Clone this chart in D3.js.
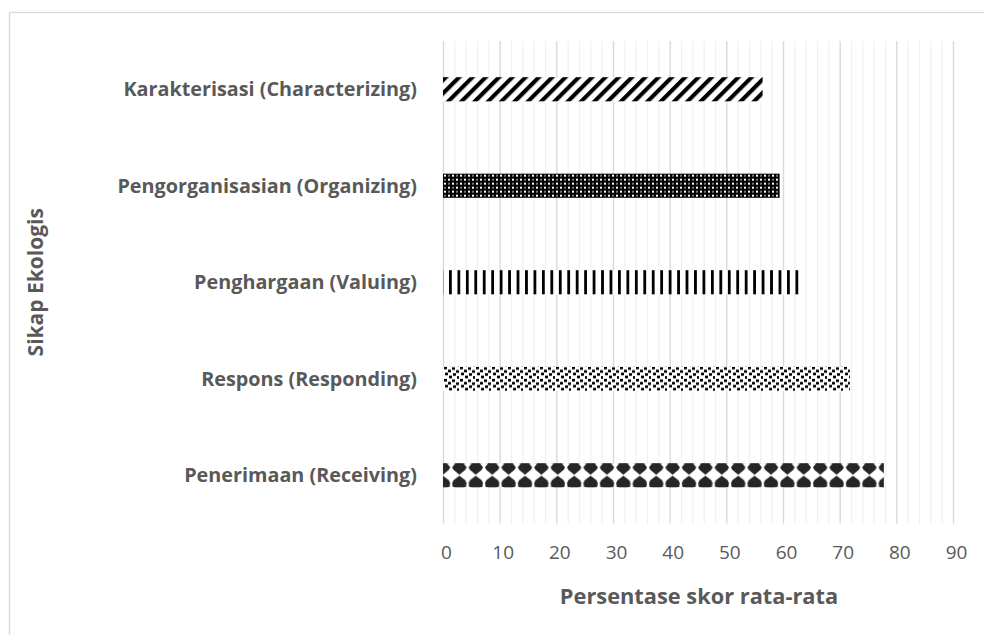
<!DOCTYPE html>
<html>
  <head>
    <meta charset="utf-8">
    <title>Sikap Ekologis</title>
    <script type="text/javascript" src="https://d3js.org/d3.v7.min.js"></script>
    <style>
      html, body {
        margin: 0;
        background: #fff;
      }
      text {
        font-family: "Open Sans", sans-serif;
        fill: #595959;
      }
    </style>
  </head>
  <body>
    <script>

    // data
    var categories = [
      "Karakterisasi (Characterizing)",
      "Pengorganisasian (Organizing)",
      "Penghargaan (Valuing)",
      "Respons (Responding)",
      "Penerimaan (Receiving)"
    ];
    var values = [56.4, 59.4, 63.0, 71.8, 77.8];
    var xTicks = [0, 10, 20, 30, 40, 50, 60, 70, 80, 90];
    var patternIds = ["p-diag", "p-sphere", "p-vert", "p-confetti", "p-shingle"];

    var W = 984, H = 635;
    var plotLeft = 443, plotRight = 953, plotTop = 41, plotBottom = 523.5;

    var svg = d3.select("body")
                .append("svg")
                .attr("width", W)
                .attr("height", H);

    // chart frame
    svg.append("rect")
       .attr("x", 9.5).attr("y", 12.5)
       .attr("width", W + 20).attr("height", H + 20)
       .attr("fill", "none")
       .attr("stroke", "#d9d9d9")
       .attr("stroke-width", 1.3);

    var x = d3.scaleLinear().domain([0, 90]).range([plotLeft, plotRight]);
    var y = d3.scaleBand()
              .domain(categories)
              .range([plotTop, plotBottom])
              .paddingInner(0.75)
              .paddingOuter(0.375);

    var gridH = plotBottom - plotTop;

    // minor gridlines
    var minor = d3.range(0, 91, 2).filter(function(d) { return d % 10 != 0; });
    var gMinor = svg.append("g")
       .attr("transform", "translate(0," + plotBottom + ")")
       .call(d3.axisBottom(x).tickValues(minor).tickSize(-gridH).tickFormat(""));
    gMinor.select(".domain").remove();
    gMinor.selectAll("line").attr("stroke", "#f0f0f0").attr("stroke-width", 1.2);

    // major gridlines + tick labels
    var xAxis = svg.append("g")
       .attr("transform", "translate(0," + plotBottom + ")")
       .call(d3.axisBottom(x).tickValues(xTicks).tickSize(-gridH).tickPadding(0));
    xAxis.select(".domain").remove();
    xAxis.selectAll("line").attr("stroke", "#d9d9d9").attr("stroke-width", 1.4);
    xAxis.selectAll("text")
         .attr("x", 3)
         .attr("y", 29)
         .attr("dy", "0.35em")
         .attr("fill", "#595959")
         .style("font-size", "19px")
         .style("font-family", "'Open Sans', sans-serif");

    // patterns
    var defs = svg.append("defs");
    var bw = y.bandwidth();

    function barTop(i) { return y(categories[i]); }

    // wide upward diagonal
    var pd = defs.append("pattern")
       .attr("id", "p-diag")
       .attr("patternUnits", "userSpaceOnUse")
       .attr("width", 9.4).attr("height", 9.4)
       .attr("patternTransform", "translate(" + plotLeft + "," + barTop(0) + ") rotate(45)");
    pd.append("rect").attr("width", 9.4).attr("height", 9.4).attr("fill", "#fff");
    pd.append("rect").attr("width", 4.1).attr("height", 9.4).attr("fill", "#000");

    // dark sphere / dotted grid
    var ps = defs.append("pattern")
       .attr("id", "p-sphere")
       .attr("patternUnits", "userSpaceOnUse")
       .attr("x", plotLeft).attr("y", barTop(1))
       .attr("width", 8).attr("height", 8);
    ps.append("rect").attr("width", 8).attr("height", 8).attr("fill", "#000");
    ps.append("rect").attr("x", 1).attr("y", 1).attr("width", 2).attr("height", 2).attr("fill", "#fff");
    ps.append("rect").attr("x", 5).attr("y", 5).attr("width", 2).attr("height", 2).attr("fill", "#fff");
    ps.append("rect").attr("x", 5).attr("y", 1).attr("width", 2).attr("height", 2).attr("fill", "#777");
    ps.append("rect").attr("x", 1).attr("y", 5).attr("width", 2).attr("height", 2).attr("fill", "#777");

    // vertical lines
    var pv = defs.append("pattern")
       .attr("id", "p-vert")
       .attr("patternUnits", "userSpaceOnUse")
       .attr("x", plotLeft + 6).attr("y", barTop(2))
       .attr("width", 8.45).attr("height", 10);
    pv.append("rect").attr("width", 8.45).attr("height", 10).attr("fill", "#fff");
    pv.append("rect").attr("width", 2.8).attr("height", 10).attr("fill", "#000");

    // small confetti
    var pc = defs.append("pattern")
       .attr("id", "p-confetti")
       .attr("patternUnits", "userSpaceOnUse")
       .attr("x", plotLeft).attr("y", barTop(3))
       .attr("width", 16).attr("height", 12.2);
    pc.append("rect").attr("width", 16).attr("height", 12.2).attr("fill", "#fff");
    [[1, 0], [9, 0.5], [5, 3], [13, 3.5], [2, 6], [10, 6.5], [6, 9], [14, 9.5]].forEach(function(p) {
      pc.append("rect").attr("x", p[0]).attr("y", p[1])
        .attr("width", 3).attr("height", 2.6).attr("fill", "#000");
    });

    // shingle / diamond shapes
    var c = 8.2;
    var ph = defs.append("pattern")
       .attr("id", "p-shingle")
       .attr("patternUnits", "userSpaceOnUse")
       .attr("x", plotLeft - 8.2).attr("y", barTop(4))
       .attr("width", 16.4).attr("height", bw);
    ph.append("rect").attr("width", 16.4).attr("height", bw).attr("fill", "#fff");
    ph.append("path")
      .attr("fill", "#262626")
      .attr("d",
        "M" + (c - 4) + ",0 L" + (c + 4) + ",0 L" + (c + 7.2) + ",4 L" + (c + 6) + ",6.5 L" + c + "," + (bw / 2 - 0.6) +
        " L" + (c - 6) + ",6.5 L" + (c - 7.2) + ",4 Z" +
        " M" + c + "," + (bw / 2 + 0.6) + " L" + (c + 6) + "," + (bw - 7) + " L" + (c + 7.2) + "," + (bw - 4) +
        " L" + (c + 6.5) + "," + bw + " L" + (c - 6.5) + "," + bw + " L" + (c - 7.2) + "," + (bw - 4) +
        " L" + (c - 6) + "," + (bw - 7) + " Z");

    // bars
    svg.selectAll("rect.bar")
       .data(values)
       .enter()
       .append("rect")
       .attr("class", "bar")
       .attr("x", x(0))
       .attr("y", function(d, i) { return y(categories[i]); })
       .attr("width", function(d) { return x(d) - x(0); })
       .attr("height", bw)
       .attr("fill", function(d, i) { return "url(#" + patternIds[i] + ")"; });

    // category labels
    svg.selectAll("text.cat")
       .data(categories)
       .enter()
       .append("text")
       .attr("class", "cat")
       .attr("x", 417)
       .attr("y", function(d) { return y(d) + bw / 2; })
       .attr("dy", "0.35em")
       .attr("text-anchor", "end")
       .style("font-size", "19.8px")
       .style("font-weight", "bold")
       .text(function(d) { return d; });

    // axis titles
    svg.append("text")
       .attr("x", 699).attr("y", 596)
       .attr("dy", "0.35em")
       .attr("text-anchor", "middle")
       .style("font-size", "21.8px")
       .style("font-weight", "bold")
       .text("Persentase skor rata-rata");

    svg.append("text")
       .attr("transform", "translate(36," + ((plotTop + plotBottom) / 2) + ") rotate(-90)")
       .attr("dy", "0.35em")
       .attr("text-anchor", "middle")
       .style("font-size", "21px")
       .style("font-weight", "bold")
       .text("Sikap Ekologis");

    </script>
  </body>
</html>
